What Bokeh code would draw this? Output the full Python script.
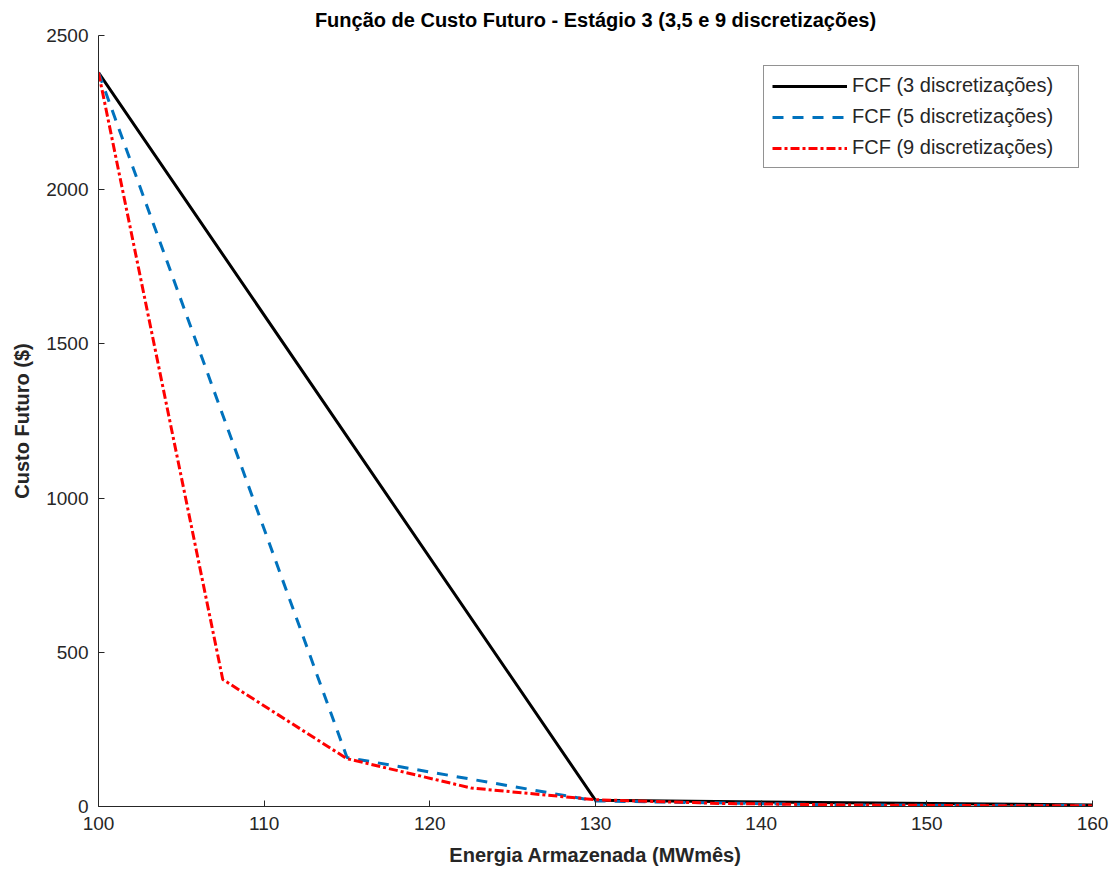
from bokeh.plotting import figure
from bokeh.models import Legend, LegendItem, FixedTicker, Range1d
from bokeh.embed import file_html
from bokeh.resources import INLINE

x3 = [100, 130, 160]
y3 = [2380, 20, 5]
x5 = [100, 115, 130, 145, 160]
y5 = [2380, 159, 18, 5, 3]
x9 = [100, 107.5, 115, 122.5, 130, 137.5, 145, 152.5, 160]
y9 = [2380, 412, 155, 60, 22, 10, 5, 3, 2]

labels = ["FCF (3 discretizações)", "FCF (5 discretizações)", "FCF (9 discretizações)"]
x_ticks = [100, 110, 120, 130, 140, 150, 160]
y_ticks = [0, 500, 1000, 1500, 2000, 2500]

FONT = "Liberation Sans"
TXT = "#262626"

p = figure(width=1117, height=878, output_backend="svg", toolbar_location=None,
           x_range=Range1d(100, 160), y_range=Range1d(0, 2500),
           min_border_left=98, min_border_right=25, min_border_top=35, min_border_bottom=72)

p.title.text = "Função de Custo Futuro - Estágio 3 (3,5 e 9 discretizações)"
p.title.align = "center"
p.title.text_font = FONT
p.title.text_font_size = "20px"
p.title.text_font_style = "bold"
p.title.text_color = "#000000"

r3 = p.line(x3, y3, line_color="#000000", line_width=3)
r5 = p.line(x5, y5, line_color="#0072BD", line_width=3, line_dash="11 9")
r9 = p.line(x9, y9, line_color="#FF0000", line_width=3, line_dash="9 3 3 3")

p.xgrid.visible = False
p.ygrid.visible = False
p.outline_line_color = None

for ax in (p.xaxis[0], p.yaxis[0]):
    ax.axis_line_color = TXT
    ax.major_tick_line_color = TXT
    ax.major_tick_in = 6
    ax.major_tick_out = 0
    ax.minor_tick_line_color = None
    ax.major_label_text_font = FONT
    ax.major_label_text_font_size = "19px"
    ax.major_label_text_color = TXT
    ax.axis_label_text_font = FONT
    ax.axis_label_text_font_size = "20px"
    ax.axis_label_text_font_style = "bold"
    ax.axis_label_text_color = TXT

p.xaxis[0].ticker = FixedTicker(ticks=x_ticks)
p.yaxis[0].ticker = FixedTicker(ticks=y_ticks)
p.xaxis.axis_label = "Energia Armazenada (MWmês)"
p.yaxis.axis_label = "Custo Futuro ($)"
p.xaxis.major_label_standoff = 10
p.yaxis.major_label_standoff = 10
p.xaxis.axis_label_standoff = 11
p.yaxis.axis_label_standoff = 10

legend = Legend(items=[LegendItem(label=labels[0], renderers=[r3]),
                       LegendItem(label=labels[1], renderers=[r5]),
                       LegendItem(label=labels[2], renderers=[r9])],
                location=(665, 638))
legend.border_line_color = TXT
legend.border_line_width = 1
legend.label_text_font = FONT
legend.label_text_font_size = "20px"
legend.label_text_color = TXT
legend.glyph_width = 75
legend.glyph_height = 22
legend.label_height = 22
legend.label_width = 218
legend.label_standoff = 5
legend.spacing = 8
legend.padding = 8
p.add_layout(legend)

open("out.html", "w").write(file_html(p, INLINE))
